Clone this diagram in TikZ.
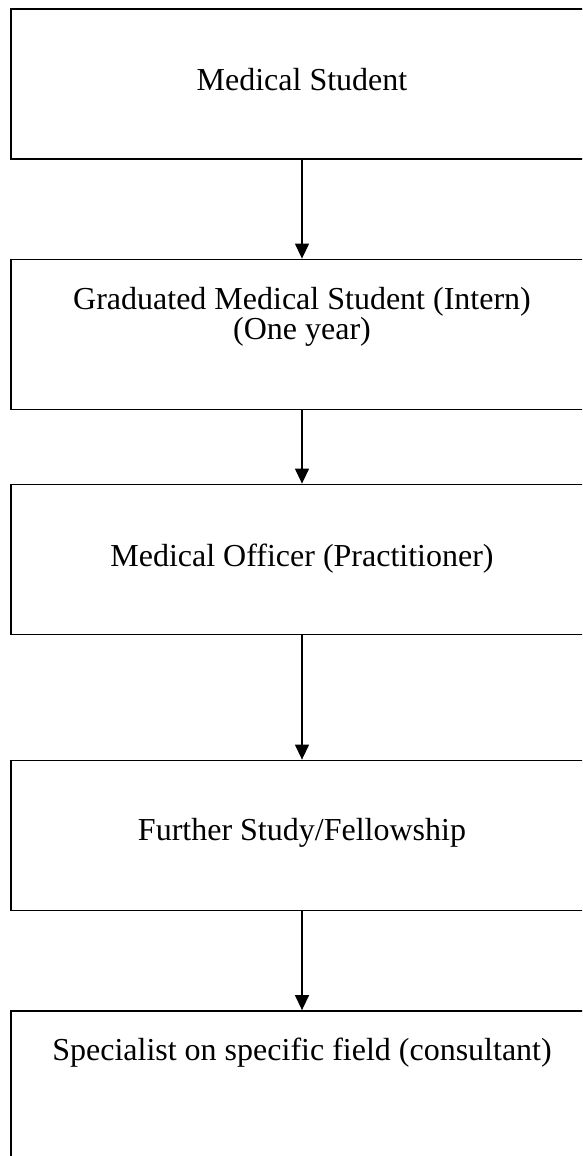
\documentclass[tikz,border=0pt]{standalone}
\usepackage{fontspec}
\setmainfont{Liberation Serif}
\usepackage{tikz}
\usepackage{xcolor}
\usetikzlibrary{positioning, arrows.meta}

\tikzset{
    stagebox/.style={rectangle, draw, line width=1.8pt, minimum width=582pt, minimum height=150pt, inner sep=0pt},
    stagetext/.style={inner sep=0pt, align=center, font=\fontsize{32}{27}\selectfont},
    flow/.style={line width=1.3pt, -{Triangle[width=14pt, length=15pt]}}
}

\begin{document}
\begin{tikzpicture}[x=1pt, y=-1pt]
                \useasboundingbox (0, 0) rectangle (582, 1156);
                \clip (0, 0) rectangle (582, 1156);

                \node[stagebox] (studentbox) at (302, 84) {};
                \node[stagebox] (internbox) at (302, 334.5) {};
                \node[stagebox] (officerbox) at (302, 559.5) {};
                \node[stagebox] (fellowbox) at (302, 835.5) {};
                \node[stagebox] (consultantbox) at (302, 1086) {};

                \node[stagetext, anchor=base] (student) at (302, 90) {Medical Student};
                \node[stagetext] (intern) at (302, 317) {Graduated Medical Student (Intern)\\(One year)};
                \node[stagetext, anchor=base] (officer) at (302, 566) {Medical Officer (Practitioner)};
                \node[stagetext, anchor=base] (fellow) at (302, 840) {Further Study/Fellowship};
                \node[stagetext, anchor=base] (consultant) at (302, 1060) {Specialist on specific field (consultant)};

                \draw[flow] (studentbox) -- (internbox);
                \draw[flow] (internbox) -- (officerbox);
                \draw[flow] (officerbox) -- (fellowbox);
                \draw[flow] (fellowbox) -- (consultantbox);
            \end{tikzpicture}
\end{document}
